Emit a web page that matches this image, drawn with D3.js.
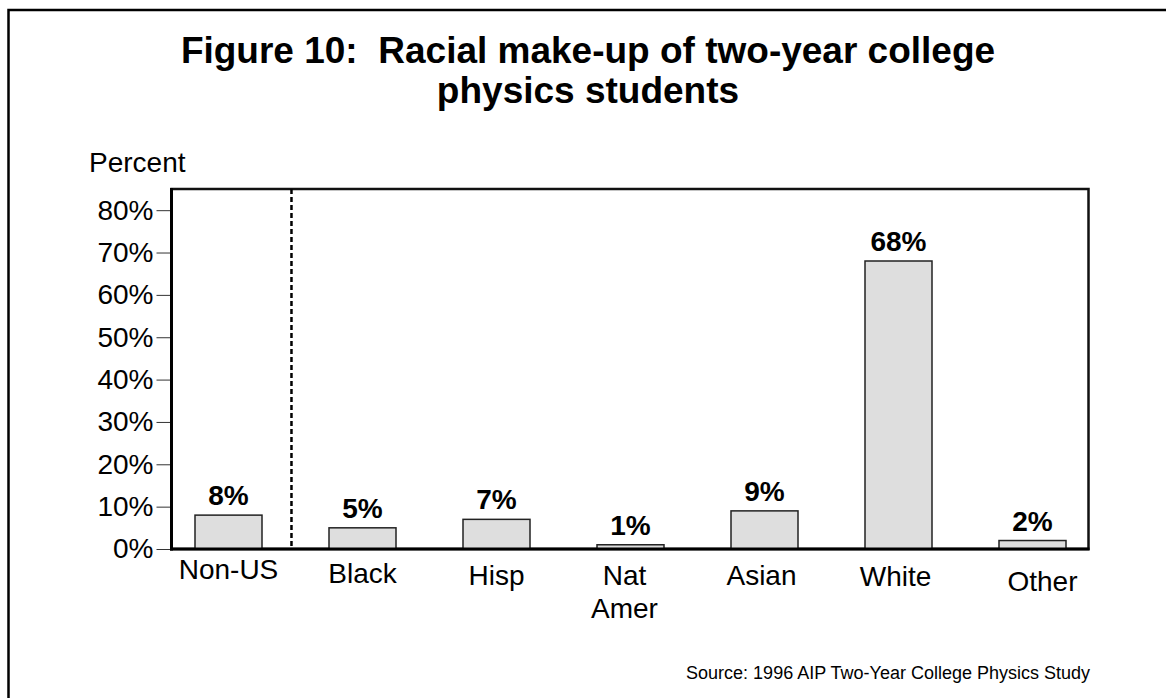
<!DOCTYPE html>
<html>
<head>
<meta charset="utf-8">
<script src="https://cdn.jsdelivr.net/npm/d3@7/dist/d3.min.js"></script>
<style>
  html, body { margin: 0; padding: 0; background: #fff; }
  svg { display: block; }
  text { font-family: "Liberation Sans", Arial, Helvetica, sans-serif; fill: #000; }
</style>
</head>
<body>
<script>
// ---- data ----
const categories = ["Non-US", "Black", "Hisp", "Nat Amer", "Asian", "White", "Other"];
const categoryLines = [["Non-US"], ["Black"], ["Hisp"], ["Nat", "Amer"], ["Asian"], ["White"], ["Other"]];
const values = [8, 5, 7, 1, 9, 68, 2];
const valueLabels = ["8%", "5%", "7%", "1%", "9%", "68%", "2%"];
const yTicks = [0, 10, 20, 30, 40, 50, 60, 70, 80];
const yTickLabels = ["0%", "10%", "20%", "30%", "40%", "50%", "60%", "70%", "80%"];
const titleLines = ["Figure 10:  Racial make-up of two-year college", "physics students"];
const yAxisTitle = "Percent";
const sourceText = "Source: 1996 AIP Two-Year College Physics Study";

// ---- label nudges (style) ----
const labelNudgeX = [0, 0, 0, -6, -3, -3, 10];
const labelNudgeY = [-6, -2, 0, 0, 0, 1, 6];

const W = 1166, H = 698;
const svg = d3.select("body").append("svg").attr("width", W).attr("height", H);

// outer frame (extends past right/bottom edges)
svg.append("rect").attr("x", 8.5).attr("y", 10).attr("width", W + 20).attr("height", H + 20)
  .attr("fill", "none").attr("stroke", "#000").attr("stroke-width", 2.5);

// plot geometry
const plotL = 171.5, plotR = 1088.5, plotT = 189, plotB = 549;
const x = d3.scaleBand().domain(categories).range([161.5, 1099.5])
  .paddingInner(0.5).paddingOuter(0.25);
const y = d3.scaleLinear().domain([0, 85]).range([plotB, plotT]);

// title
const title = svg.append("text").attr("text-anchor", "middle")
  .style("white-space", "pre")
  .style("font-size", "37px").style("font-weight", "bold");
titleLines.forEach((t, i) => {
  title.append("tspan").attr("x", 588).attr("y", 63 + i * 40).text(t);
});

// y axis title
svg.append("text").attr("x", 89).attr("y", 172).style("font-size", "28px").text(yAxisTitle);

// plot frame (top/right)
svg.append("rect").attr("x", plotL).attr("y", plotT).attr("width", plotR - plotL).attr("height", plotB - plotT)
  .attr("fill", "none").attr("stroke", "#111").attr("stroke-width", 2.5);

// dotted separator between Non-US and the rest
const sepX = x(categories[1]) - 0.28 * x.step();
svg.append("line").attr("x1", sepX).attr("x2", sepX).attr("y1", plotT).attr("y2", plotB)
  .attr("stroke", "#000").attr("stroke-width", 2.5).attr("stroke-dasharray", "5,3");

// bars
svg.append("g").selectAll("rect").data(values).join("rect")
  .attr("x", (d, i) => x(categories[i]))
  .attr("y", d => y(d))
  .attr("width", x.bandwidth())
  .attr("height", d => plotB - y(d))
  .attr("fill", "#dedede").attr("stroke", "#222").attr("stroke-width", 1.5);

// value labels
svg.append("g").selectAll("text").data(values).join("text")
  .attr("x", (d, i) => x(categories[i]) + x.bandwidth() / 2)
  .attr("y", d => y(d) - 10)
  .attr("text-anchor", "middle")
  .style("font-size", "28px").style("font-weight", "bold")
  .text((d, i) => valueLabels[i]);

// y axis
const yAxis = d3.axisLeft(y).tickValues(yTicks)
  .tickFormat((d, i) => yTickLabels[i]).tickSizeInner(15).tickSizeOuter(0).tickPadding(3);
const gy = svg.append("g").attr("transform", `translate(${plotL},0)`).call(yAxis);
gy.select(".domain").remove();
gy.selectAll(".tick line").attr("stroke", "#333").attr("stroke-width", 1);
gy.selectAll(".tick text").style("font-size", "28px").style("font-family", "Liberation Sans, Arial, sans-serif")
  .attr("fill", "#000");

// axis lines (left & bottom)
svg.append("line").attr("x1", plotL).attr("x2", plotL).attr("y1", plotT - 1).attr("y2", plotB + 1.5)
  .attr("stroke", "#000").attr("stroke-width", 3);
svg.append("line").attr("x1", plotL - 1.5).attr("x2", plotR + 1).attr("y1", plotB).attr("y2", plotB)
  .attr("stroke", "#000").attr("stroke-width", 3);

// category labels
const cg = svg.append("g");
categories.forEach((c, i) => {
  const t = cg.append("text").attr("text-anchor", "middle").style("font-size", "28px");
  categoryLines[i].forEach((ln, j) => {
    t.append("tspan")
      .attr("x", x(c) + x.bandwidth() / 2 + labelNudgeX[i])
      .attr("y", 585 + labelNudgeY[i] + j * 33)
      .text(ln);
  });
});

// source
svg.append("text").attr("x", 1090).attr("y", 679).attr("text-anchor", "end")
  .style("font-size", "18px").text(sourceText);
</script>
</body>
</html>
